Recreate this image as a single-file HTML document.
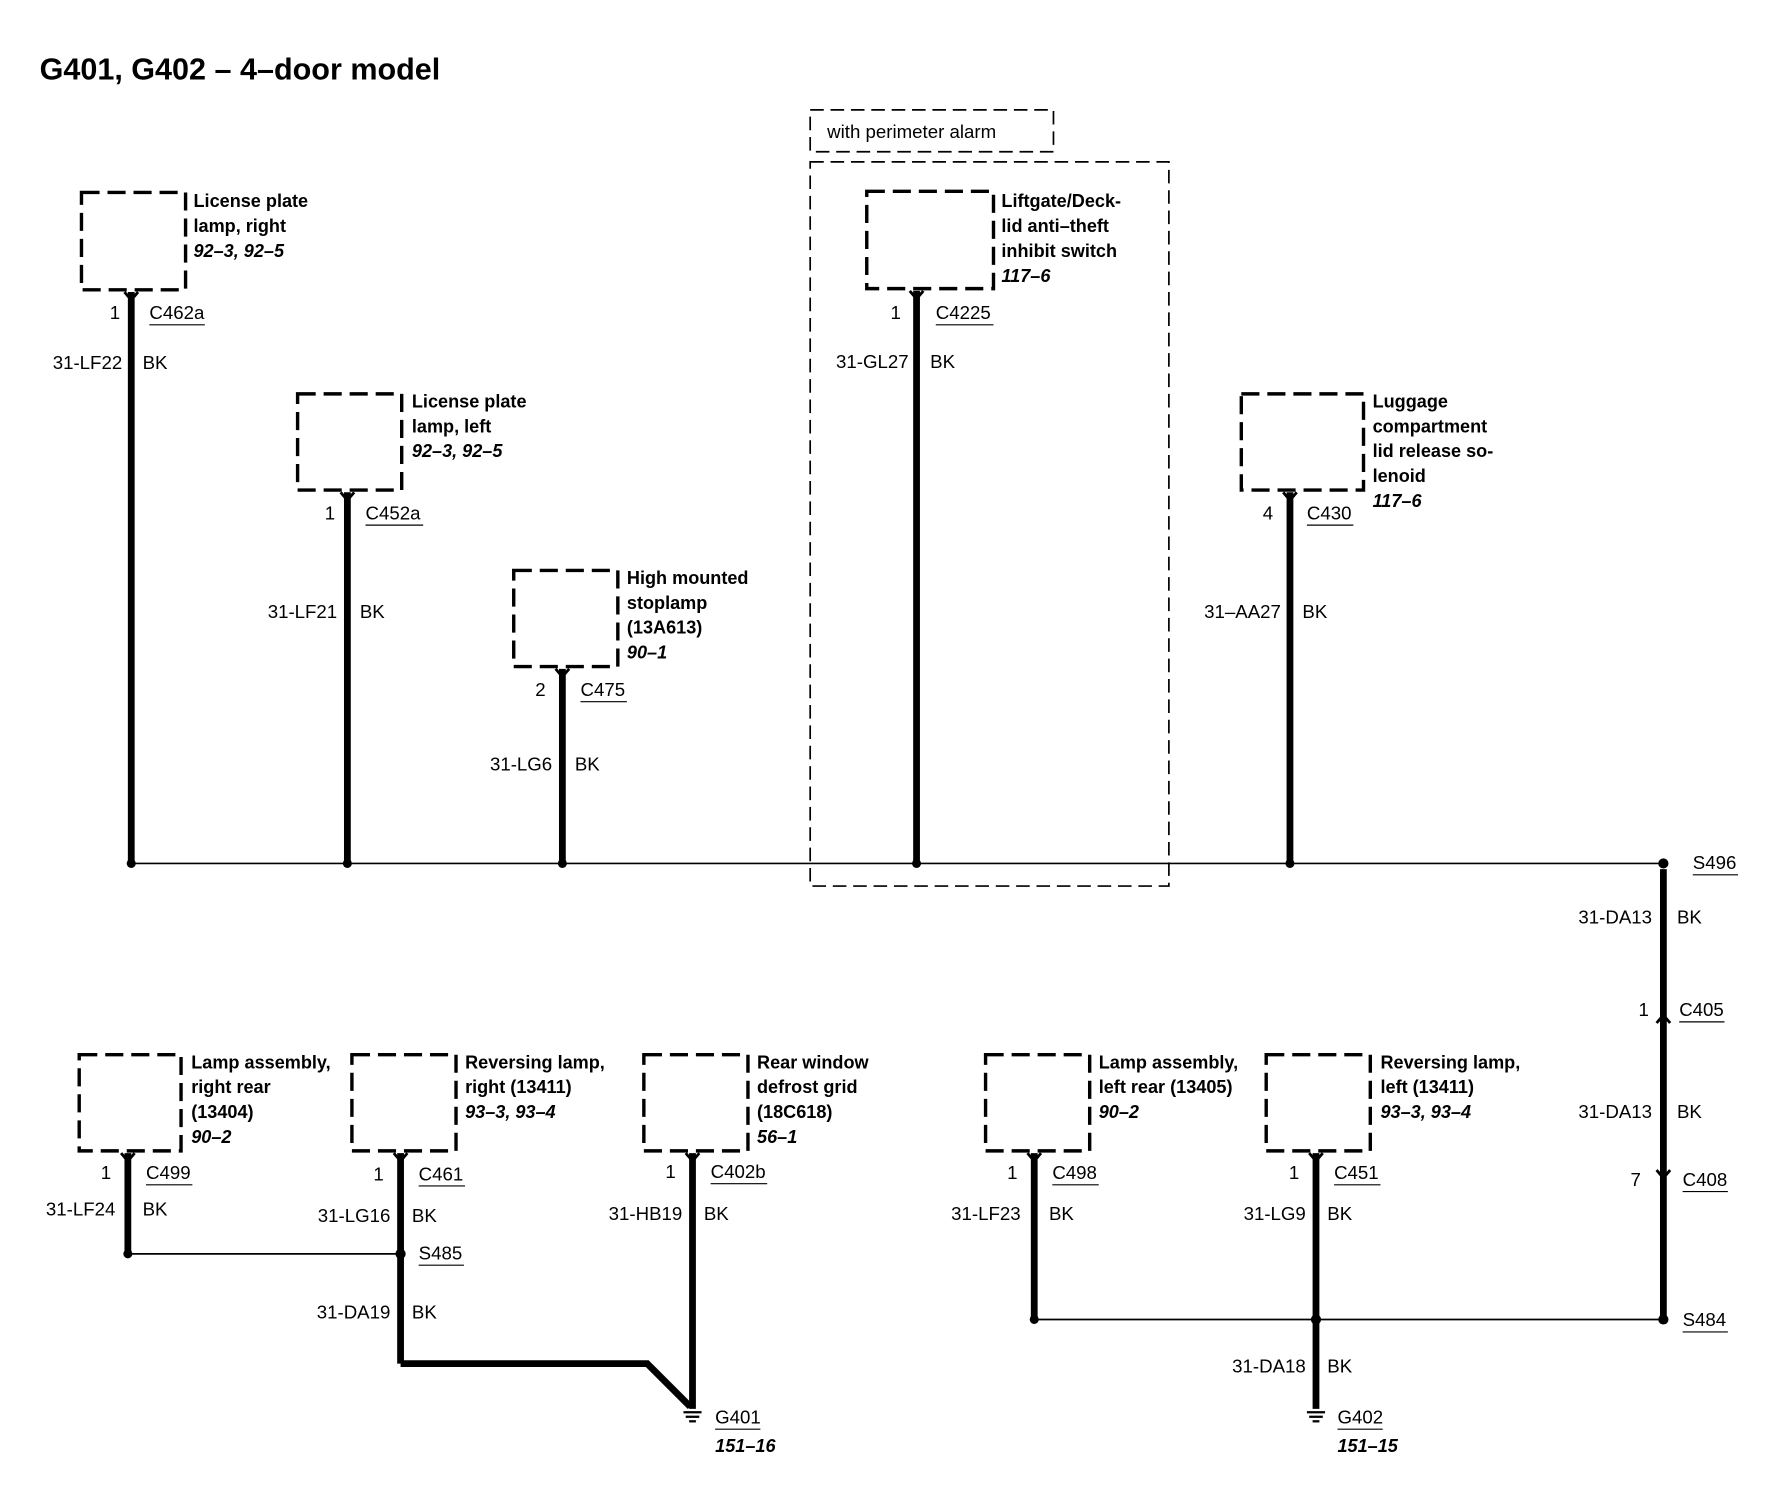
<!DOCTYPE html>
<html><head><meta charset="utf-8"><style>
html,body{margin:0;padding:0;background:#fff}
svg{display:block}
text{font-family:"Liberation Sans",Arial,sans-serif;fill:#000}
.b{font-weight:bold;font-size:16px}
.i{font-weight:bold;font-style:italic;font-size:16px}
.n{font-size:16.5px}
.box{fill:none;stroke:#000;stroke-width:3;stroke-dasharray:16,7}
.w{stroke:#000;stroke-width:6;fill:none}
.t{stroke:#000;stroke-width:1.5;fill:none}
.u{stroke:#000;stroke-width:1}
</style></head><body>
<svg width="1772" height="1504" viewBox="0 0 1566 1329" xmlns="http://www.w3.org/2000/svg">
<text x="35" y="70" style="font-weight:bold;font-size:27px">G401, G402 – 4–door model</text>

<line class="t" x1="116" y1="763" x2="1470" y2="763"/>
<line class="t" x1="113" y1="1108" x2="354" y2="1108"/>
<line class="t" x1="914" y1="1166" x2="1470" y2="1166"/>

<rect x="716" y="97" width="215" height="37" style="fill:none;stroke:#000;stroke-width:1.5;stroke-dasharray:12,6"/>
<text x="731" y="122" class="n">with perimeter alarm</text>
<rect x="716" y="143" width="317" height="640" style="fill:none;stroke:#000;stroke-width:1.5;stroke-dasharray:12,6"/>

<rect class="box" x="72" y="170" width="92" height="86"/>
<text x="171" y="183" class="b">License plate</text><text x="171" y="205" class="b">lamp, right</text><text x="171" y="227" class="i">92–3, 92–5</text>
<line class="w" x1="116" y1="258" x2="116" y2="763"/>
<text x="97" y="282" class="n">1</text><text x="132" y="282" class="n">C462a</text><line class="u" x1="132" y1="287" x2="181" y2="287"/>
<text x="108" y="326" class="n" text-anchor="end">31-LF22</text><text x="126" y="326" class="n">BK</text>

<rect class="box" x="263" y="348" width="92" height="85"/>
<text x="364" y="360" class="b">License plate</text><text x="364" y="382" class="b">lamp, left</text><text x="364" y="404" class="i">92–3, 92–5</text>
<line class="w" x1="307" y1="435" x2="307" y2="763"/>
<text x="287" y="459" class="n">1</text><text x="323" y="459" class="n">C452a</text><line class="u" x1="323" y1="464" x2="374" y2="464"/>
<text x="298" y="546" class="n" text-anchor="end">31-LF21</text><text x="318" y="546" class="n">BK</text>

<rect class="box" x="454" y="504" width="92" height="85"/>
<text x="554" y="516" class="b">High mounted</text><text x="554" y="538" class="b">stoplamp</text><text x="554" y="560" class="b">(13A613)</text><text x="554" y="582" class="i">90–1</text>
<line class="w" x1="497" y1="591" x2="497" y2="763"/>
<text x="473" y="615" class="n">2</text><text x="513" y="615" class="n">C475</text><line class="u" x1="513" y1="620" x2="554" y2="620"/>
<text x="488" y="681" class="n" text-anchor="end">31-LG6</text><text x="508" y="681" class="n">BK</text>

<rect class="box" x="766" y="169" width="112" height="86"/>
<text x="885" y="183" class="b">Liftgate/Deck-</text><text x="885" y="205" class="b">lid anti–theft</text><text x="885" y="227" class="b">inhibit switch</text><text x="885" y="249" class="i">117–6</text>
<line class="w" x1="810" y1="257" x2="810" y2="763"/>
<text x="787" y="282" class="n">1</text><text x="827" y="282" class="n">C4225</text><line class="u" x1="827" y1="287" x2="878" y2="287"/>
<text x="803" y="325" class="n" text-anchor="end">31-GL27</text><text x="822" y="325" class="n">BK</text>

<rect class="box" x="1097" y="348" width="108" height="85"/>
<text x="1213" y="360" class="b">Luggage</text><text x="1213" y="382" class="b">compartment</text><text x="1213" y="404" class="b">lid release so-</text><text x="1213" y="426" class="b">lenoid</text><text x="1213" y="448" class="i">117–6</text>
<line class="w" x1="1140" y1="435" x2="1140" y2="763"/>
<text x="1116" y="459" class="n">4</text><text x="1155" y="459" class="n">C430</text><line class="u" x1="1155" y1="464" x2="1196" y2="464"/>
<text x="1132" y="546" class="n" text-anchor="end">31–AA27</text><text x="1151" y="546" class="n">BK</text>

<line class="w" x1="1470" y1="768" x2="1470" y2="1166"/>
<text x="1496" y="768" class="n">S496</text><line class="u" x1="1496" y1="773" x2="1536" y2="773"/>
<text x="1460" y="816" class="n" text-anchor="end">31-DA13</text><text x="1482" y="816" class="n">BK</text>
<text x="1448" y="898" class="n">1</text><text x="1484" y="898" class="n">C405</text><line class="u" x1="1484" y1="903" x2="1524" y2="903"/>
<path d="M1464,904 L1470,897 L1476,904" class="t" style="stroke-width:2.5"/>
<text x="1460" y="988" class="n" text-anchor="end">31-DA13</text><text x="1482" y="988" class="n">BK</text>
<text x="1441" y="1048" class="n">7</text><text x="1487" y="1048" class="n">C408</text><line class="u" x1="1487" y1="1053" x2="1527" y2="1053"/>
<path d="M1464,1034 L1470,1041 L1476,1034" class="t" style="stroke-width:2.5"/>
<text x="1487" y="1172" class="n">S484</text><line class="u" x1="1487" y1="1177" x2="1527" y2="1177"/>

<rect class="box" x="70" y="932" width="90" height="85"/>
<text x="169" y="944" class="b">Lamp assembly,</text><text x="169" y="966" class="b">right rear</text><text x="169" y="988" class="b">(13404)</text><text x="169" y="1010" class="i">90–2</text>
<line class="w" x1="113" y1="1019" x2="113" y2="1108"/>
<text x="89" y="1042" class="n">1</text><text x="129" y="1042" class="n">C499</text><line class="u" x1="129" y1="1047" x2="170" y2="1047"/>
<text x="102" y="1074" class="n" text-anchor="end">31-LF24</text><text x="126" y="1074" class="n">BK</text>

<rect class="box" x="311" y="932" width="92" height="85"/>
<text x="411" y="944" class="b">Reversing lamp,</text><text x="411" y="966" class="b">right (13411)</text><text x="411" y="988" class="i">93–3, 93–4</text>
<line class="w" x1="354" y1="1019" x2="354" y2="1205"/>
<text x="330" y="1043" class="n">1</text><text x="370" y="1043" class="n">C461</text><line class="u" x1="370" y1="1048" x2="411" y2="1048"/>
<text x="345" y="1080" class="n" text-anchor="end">31-LG16</text><text x="364" y="1080" class="n">BK</text>
<text x="370" y="1113" class="n">S485</text><line class="u" x1="370" y1="1118" x2="410" y2="1118"/>
<text x="345" y="1165" class="n" text-anchor="end">31-DA19</text><text x="364" y="1165" class="n">BK</text>
<path d="M354,1205 L572,1205 L610,1243" class="w"/>

<rect class="box" x="569" y="932" width="92" height="85"/>
<text x="669" y="944" class="b">Rear window</text><text x="669" y="966" class="b">defrost grid</text><text x="669" y="988" class="b">(18C618)</text><text x="669" y="1010" class="i">56–1</text>
<line class="w" x1="612" y1="1019" x2="612" y2="1245"/>
<text x="588" y="1041" class="n">1</text><text x="628" y="1041" class="n">C402b</text><line class="u" x1="628" y1="1046" x2="678" y2="1046"/>
<text x="603" y="1078" class="n" text-anchor="end">31-HB19</text><text x="622" y="1078" class="n">BK</text>
<g class="t" style="stroke-width:2"><line x1="604" y1="1248" x2="620" y2="1248"/><line x1="606" y1="1252" x2="618" y2="1252"/><line x1="609" y1="1256" x2="615" y2="1256"/></g>
<text x="632" y="1258" class="n">G401</text><line class="u" x1="632" y1="1263" x2="672" y2="1263"/>
<text x="632" y="1283" class="i">151–16</text>

<rect class="box" x="871" y="932" width="92" height="85"/>
<text x="971" y="944" class="b">Lamp assembly,</text><text x="971" y="966" class="b">left rear (13405)</text><text x="971" y="988" class="i">90–2</text>
<line class="w" x1="914" y1="1019" x2="914" y2="1166"/>
<text x="890" y="1042" class="n">1</text><text x="930" y="1042" class="n">C498</text><line class="u" x1="930" y1="1047" x2="971" y2="1047"/>
<text x="902" y="1078" class="n" text-anchor="end">31-LF23</text><text x="927" y="1078" class="n">BK</text>

<rect class="box" x="1119" y="932" width="92" height="85"/>
<text x="1220" y="944" class="b">Reversing lamp,</text><text x="1220" y="966" class="b">left (13411)</text><text x="1220" y="988" class="i">93–3, 93–4</text>
<line class="w" x1="1163" y1="1019" x2="1163" y2="1245"/>
<text x="1139" y="1042" class="n">1</text><text x="1179" y="1042" class="n">C451</text><line class="u" x1="1179" y1="1047" x2="1220" y2="1047"/>
<text x="1154" y="1078" class="n" text-anchor="end">31-LG9</text><text x="1173" y="1078" class="n">BK</text>
<text x="1154" y="1213" class="n" text-anchor="end">31-DA18</text><text x="1173" y="1213" class="n">BK</text>
<g class="t" style="stroke-width:2"><line x1="1155" y1="1248" x2="1171" y2="1248"/><line x1="1157" y1="1252" x2="1169" y2="1252"/><line x1="1160" y1="1256" x2="1166" y2="1256"/></g>
<text x="1182" y="1258" class="n">G402</text><line class="u" x1="1182" y1="1263" x2="1222" y2="1263"/>
<text x="1182" y="1283" class="i">151–15</text>

<g class="t" style="stroke-width:2.5">
<path d="M110,258 L116,265 L122,258"/><path d="M301,435 L307,442 L313,435"/><path d="M491,591 L497,598 L503,591"/>
<path d="M804,257 L810,264 L816,257"/><path d="M1134,435 L1140,442 L1146,435"/>
<path d="M107,1019 L113,1026 L119,1019"/><path d="M348,1019 L354,1026 L360,1019"/><path d="M606,1019 L612,1026 L618,1019"/>
<path d="M908,1019 L914,1026 L920,1019"/><path d="M1157,1019 L1163,1026 L1169,1019"/>
</g>

<g fill="#000">
<circle cx="116" cy="763" r="4"/><circle cx="307" cy="763" r="4"/><circle cx="497" cy="763" r="4"/><circle cx="810" cy="763" r="4"/><circle cx="1140" cy="763" r="4"/><circle cx="1470" cy="763" r="4.5"/>
<circle cx="113" cy="1108" r="4"/><circle cx="354" cy="1108" r="4.5"/>
<circle cx="914" cy="1166" r="4"/><circle cx="1163" cy="1166" r="4.5"/><circle cx="1470" cy="1166" r="4.5"/>
</g>
</svg>
</body></html>
